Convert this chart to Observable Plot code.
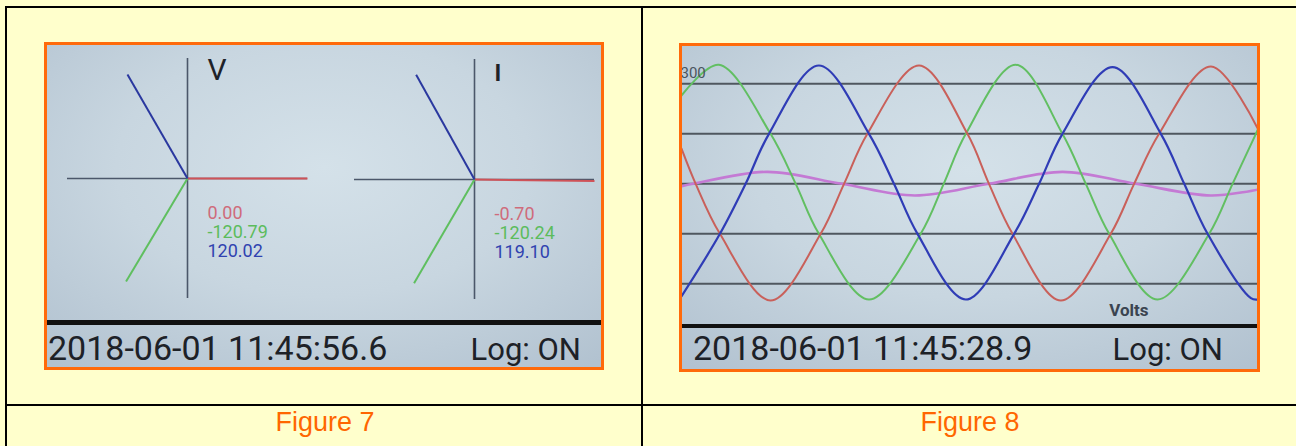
<!DOCTYPE html>
<html>
<head>
<meta charset="utf-8">
<script src="https://cdn.jsdelivr.net/npm/d3@7"></script>
<script src="https://cdn.jsdelivr.net/npm/@observablehq/plot@0.6"></script>
<style>
  html, body { margin: 0; padding: 0; }
  body { width: 1296px; height: 446px; background: #FFFFCC; position: relative; overflow: hidden; font-family: Roboto, "Noto Sans", sans-serif; }
  .rule { position: absolute; background: #000; }
  .frame { position: absolute; box-sizing: border-box; border: 3px solid #FF6A0A; overflow: hidden;
    background: radial-gradient(ellipse 75% 80% at 50% 38%, #d4e1e9 0%, #c8d6e0 50%, #b2c2d0 100%); }
  .bar { position: absolute; left: 0; right: 0; height: 5px; background: #111; }
  .chart { position: absolute; }
  #overlay { position: absolute; left: 0; top: 0; pointer-events: none; }
</style>
</head>
<body>
<div class="rule" style="left:5px;top:6px;width:1291px;height:2px"></div>
<div class="rule" style="left:5px;top:6px;width:2px;height:440px"></div>
<div class="rule" style="left:641px;top:6px;width:2px;height:440px"></div>
<div class="rule" style="left:5px;top:404px;width:1291px;height:2px"></div>

<div class="frame" style="left:44px;top:42px;width:560px;height:328px">
  <div class="bar" style="top:275px"></div>
</div>
<div class="frame" style="left:679px;top:43px;width:581px;height:329px">
  <div class="bar" style="top:278px;height:4px"></div>
</div>

<div id="phasorV" class="chart"></div>
<div id="phasorI" class="chart"></div>
<div id="wave" class="chart"></div>
<svg id="overlay" width="1296" height="446"></svg>

<script>
// ---------- data ----------
const phaseNames = ["A", "B", "C"];
const voltageAngles = [0.00, -120.79, 120.02];
const currentAngles = [-0.70, -120.24, 119.10];
const phasorTitles = ["V", "I"];

// Figure 8 waveforms: time (ms) and volts
const redTime  = [0.00, 0.79, 2.15, 4.99, 7.80, 9.11, 10.42, 13.32, 16.03, 17.24, 18.56, 21.27, 24.07, 25.38, 26.78, 29.69, 32.32];
const redVolts = [105, 0, -150, -350, -150, 0, 150, 355, 150, 0, -150, -350, -150, 0, 150, 352, 165];

const greenTime  = [0.00, 2.09, 4.99, 6.40, 7.70, 10.51, 13.41, 14.70, 15.94, 18.74, 21.36, 22.67, 23.98, 26.69, 29.59, 30.90, 32.21, 32.32];
const greenVolts = [265, 357, 150, 0, -150, -347, -150, 0, 150, 357, 150, 0, -150, -347, -150, 0, 150, 163];

const blueTime  = [0.00, 2.15, 3.59, 4.90, 7.70, 10.51, 11.91, 13.23, 15.94, 18.65, 20.05, 21.36, 24.17, 26.88, 28.19, 29.50, 31.93, 32.32];
const blueVolts = [-337, -150, 0, 150, 355, 150, 0, -150, -347, -150, 0, 150, 350, 150, 0, -150, -343, -347];

const neutralTime  = [0.00, 0.65, 4.81, 8.98, 13.08, 17.23, 21.36, 25.48, 29.69, 32.32];
const neutralVolts = [-7, 0, 36, 0, -35, 0, 36, 0, -35, -17];

const gridVolts = [300, 150, 0, -150, -300];
const gridLabels = [300];
const waveUnit = "Volts";
const timestamps = ["2018-06-01 11:45:56.6", "2018-06-01 11:45:28.9"];
const logStatus = "Log: ON";
const captions = ["Figure 7", "Figure 8"];

// ---------- styles ----------
const lineColors = ["#cf5258", "#5fbf5f", "#2a389f"];
const labelColors = ["#cf6b7b", "#5cbc5c", "#3042b0"];
const waveColors = ["#c9605a", "#62bf62", "#2f3cb6", "#c47ad4"];
const axisColor = "#4b576a";

// ---------- Figure 7: phasor diagrams ----------
function phasorPanel(angles, title, titleSize, titleWeight, originX, originY) {
  const S = 135, unit = 120, d = S / unit;
  const rows = angles.map((a, i) => ({
    phase: phaseNames[i],
    x: Math.cos(a * Math.PI / 180),
    y: Math.sin(a * Math.PI / 180),
    label: a.toFixed(2)
  }));
  const chart = Plot.plot({
    width: 2 * S, height: 2 * S, margin: 0,
    x: {domain: [-d, d], axis: null},
    y: {domain: [-d, d], axis: null},
    color: {domain: phaseNames, range: lineColors},
    style: {background: "transparent", fontFamily: "Roboto", overflow: "visible"},
    marks: [
      Plot.ruleX([0], {y1: -1, y2: 1, stroke: axisColor, strokeWidth: 1.6}),
      Plot.ruleY([0], {x1: -1, x2: 1, stroke: axisColor, strokeWidth: 1.6}),
      Plot.link(rows, {x1: 0, y1: 0, x2: "x", y2: "y", stroke: "phase", strokeWidth: 2}),
      ...rows.map((r, i) => Plot.text([r], {
        x: 0, y: 0, text: "label", fill: labelColors[i], fontSize: 18,
        textAnchor: "start", lineAnchor: "bottom", dx: 20, dy: 40 + 19 * i
      })),
      Plot.text([title], {
        x: 0, y: 0, text: t => t, fill: "#1e2228", fontSize: titleSize, fontWeight: titleWeight,
        textAnchor: "start", lineAnchor: "bottom", dx: 20, dy: -99
      })
    ]
  });
  return {chart, left: originX - S, top: originY - S};
}

function place(id, p) {
  const el = document.getElementById(id);
  el.style.left = p.left + "px";
  el.style.top = p.top + "px";
  el.appendChild(p.chart);
}

place("phasorV", phasorPanel(voltageAngles, phasorTitles[0], 30, "normal", 186.7, 178));
place("phasorI", phasorPanel(currentAngles, phasorTitles[1], 23, "bold", 474.3, 178.7));

// ---------- Figure 8: waveforms ----------
const waveNames = ["A", "B", "C", "N"];
const waveSeries = [
  {phase: "N", t: neutralTime, v: neutralVolts, w: 2.6},
  {phase: "B", t: greenTime, v: greenVolts, w: 2},
  {phase: "A", t: redTime, v: redVolts, w: 2},
  {phase: "C", t: blueTime, v: blueVolts, w: 2.2}
];
const waveChart = Plot.plot({
  width: 575, height: 278, margin: 0,
  x: {domain: [0.05, 32.3], axis: null},
  y: {domain: [-422, 412], axis: null},
  color: {domain: waveNames, range: waveColors},
  style: {background: "transparent", fontFamily: "Roboto", overflow: "hidden"},
  marks: [
    Plot.ruleY(gridVolts, {stroke: "#4f575f", strokeWidth: 2}),
    ...waveSeries.map(s => Plot.line(s.t.map((t, i) => ({t, v: s.v[i], phase: s.phase})), {
      x: "t", y: "v", stroke: "phase", strokeWidth: s.w, curve: "catmull-rom", clip: true
    })),
    Plot.text(gridLabels, {
      y: d => d, text: d => String(d), frameAnchor: "left", textAnchor: "start",
      dx: -2, dy: -11, fontSize: 15, fill: "#4a5560"
    }),
    Plot.text([waveUnit], {
      text: d => d, frameAnchor: "bottom-right", textAnchor: "end", lineAnchor: "bottom",
      dx: -109, dy: -9, fontSize: 17, fontWeight: "bold", fill: "#3b4450"
    })
  ]
});
place("wave", {chart: waveChart, left: 682, top: 46});

// ---------- static texts ----------
const ov = d3.select("#overlay");
const stampX = [48, 693];
const logX = [581, 1223];
const capX = [325, 970];
timestamps.forEach((s, i) => {
  ov.append("text").attr("x", stampX[i]).attr("y", 360)
    .attr("font-family", "Roboto").attr("font-size", 34).attr("fill", "#1d2127").text(s);
  ov.append("text").attr("x", logX[i]).attr("y", 360).attr("text-anchor", "end")
    .attr("font-family", "Roboto").attr("font-size", 31).attr("fill", "#1d2127").text(logStatus);
  ov.append("text").attr("x", capX[i]).attr("y", 431).attr("text-anchor", "middle")
    .attr("font-family", "'Liberation Sans', Arial, sans-serif").attr("font-size", 27)
    .attr("fill", "#FF6600").text(captions[i]);
});
</script>
</body>
</html>
